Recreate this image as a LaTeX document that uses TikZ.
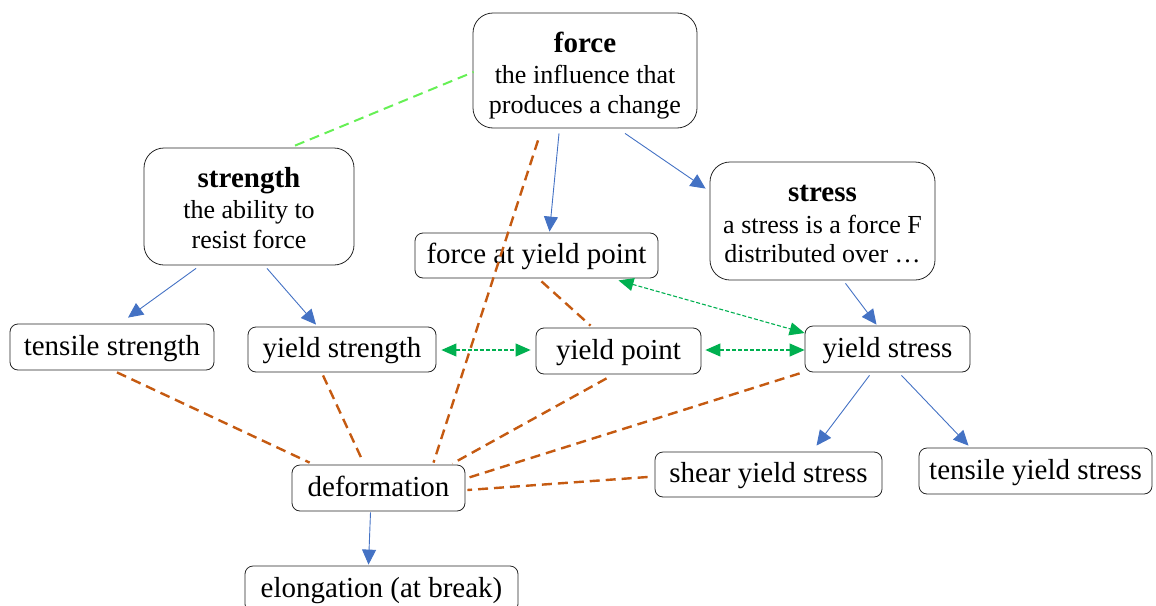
\documentclass[tikz,border=0pt]{standalone}
\usepackage{fontspec}
\setmainfont{Liberation Serif}
\usetikzlibrary{arrows.meta,calc}
\definecolor{eblue}{HTML}{4472C4}
\definecolor{eorange}{HTML}{C55A11}
\definecolor{egreen}{HTML}{00B050}
\definecolor{elight}{HTML}{66F055}
\tikzset{
  box/.style={draw=black!85, line width=0.8pt, rounded corners=8pt, inner sep=0pt,
    font=\fontsize{29}{34}\selectfont, text height=20pt, text depth=4pt},
  bigbox/.style={draw=black!85, line width=0.8pt, inner sep=0pt, rounded corners=20pt},
  title/.style={anchor=base, inner sep=0pt, font=\fontsize{29}{34}\selectfont\bfseries},
  desc/.style={anchor=base, inner sep=0pt, font=\fontsize{26}{30}\selectfont},
  isa/.style={draw=eblue, line width=0.9pt, -{Triangle[length=15pt,width=14pt]}},
  rel/.style={draw=eorange, line width=2.4pt, dash pattern=on 10pt off 6pt},
  assoc/.style={draw=elight, line width=2pt, dash pattern=on 10pt off 6pt},
  twoway/.style={draw=egreen, line width=1.1pt, dash pattern=on 4pt off 2pt,
    {Triangle[length=15pt,width=13pt]}-{Triangle[length=15pt,width=13pt]}},
}
\begin{document}
\begin{tikzpicture}[x=1pt,y=-1pt]
\clip (0,0) rectangle (1156,605);
% concept boxes with definitions
\node[bigbox, minimum width=224pt, minimum height=115pt] (force) at (585,70.5) {};
\node[title] (force-t) at ($(force.center)+(0,-18.5)$) {force};
\node[desc] (force-d1) at ($(force.center)+(0,12.5)$) {the influence that};
\node[desc] (force-d2) at ($(force.center)+(0,42.5)$) {produces a change};
\node[bigbox, minimum width=210pt, minimum height=117pt] (strength) at (249,206.5) {};
\node[title] (strength-t) at ($(strength.center)+(0,-19.5)$) {strength};
\node[desc] (strength-d1) at ($(strength.center)+(0,12)$) {the ability to};
\node[desc] (strength-d2) at ($(strength.center)+(0,42)$) {resist force};
\node[bigbox, minimum width=225pt, minimum height=118pt] (stress) at (822.5,221) {};
\node[title] (stress-t) at ($(stress.center)+(0,-20)$) {stress};
\node[desc] (stress-d1) at ($(stress.center)+(0,12.5)$) {a stress is a force F};
\node[desc] (stress-d2) at ($(stress.center)+(0,41.5)$) {distributed over …};
% single-line boxes
\node[box, minimum width=243pt, minimum height=45pt] (fyp) at (536.5,255.5) {force at yield point};
\node[box, minimum width=204pt, minimum height=46pt] (ts) at (112,347) {tensile strength};
\node[box, minimum width=188pt, minimum height=45pt] (ys) at (342,349.5) {yield strength};
\node[box, minimum width=165pt, minimum height=46pt] (yp) at (618.5,351) {yield point};
\node[box, minimum width=165pt, minimum height=46pt] (ystress) at (887.5,349) {yield stress};
\node[box, minimum width=227pt, minimum height=45pt] (shear) at (768.5,474.5) {shear yield stress};
\node[box, minimum width=233pt, minimum height=46pt] (tys) at (1035.5,471) {tensile yield stress};
\node[box, minimum width=173pt, minimum height=46pt] (def) at (378.5,488) {deformation};
\node[box, minimum width=273pt, minimum height=46pt] (elong) at (381.5,589) {elongation (at break)};
% blue arrows
\draw[isa] ($(force.south)+(-26,5)$) -- ($(fyp.north)+(13,-1)$);
\draw[isa] ($(force.south)+(40,5)$) -- ($(stress.north west)+(-4,27)$);
\draw[isa] ($(strength.south)+(-53,3)$) -- ($(ts.north)+(16,-6)$);
\draw[isa] ($(strength.south)+(18,3)$) -- ($(ys.north)+(-26,-2)$);
\draw[isa] ($(stress.south)+(23,3)$) -- ($(ystress.north)+(-11,-1)$);
\draw[isa] ($(ystress.south)+(-18,3)$) -- ($(shear.north)+(48,-6)$);
\draw[isa] ($(ystress.south)+(14,3)$) -- ($(tys.north)+(-67,-2)$);
\draw[isa] ($(def.south)+(-8,1)$) -- ($(elong.north)+(-13,-1)$);
% green two-way arrows
\draw[twoway] ($(ys.east)+(5,0.5)$) -- ($(yp.west)+(-5,-1)$);
\draw[twoway] ($(yp.east)+(4,-1)$) -- ($(ystress.west)+(0,1)$);
\draw[twoway] ($(fyp.south)+(82,2)$) -- ($(ystress.west)+(0,-16)$);
% light green association
\draw[assoc] ($(strength.north)+(46,-2)$) -- ($(force.west)+(1,1.5)$);
% orange relations
\draw[rel] ($(force.south)+(-47,12)$) -- ($(def.north)+(55,-2)$);
\draw[rel] ($(fyp.south)+(5,3)$) -- ($(yp.north)+(-28,-2)$);
\draw[rel] ($(ts.south)+(5,2)$) -- ($(def.north west)+(18,-2)$);
\draw[rel] ($(ys.south)+(-19,3)$) -- ($(def.north)+(-16,-4)$);
\draw[rel] ($(yp.south)+(-12,4)$) -- ($(def.north east)+(-13,-1)$);
\draw[rel] ($(ystress.south west)+(-5,1)$) -- ($(def.east)+(2,-10)$);
\draw[rel] ($(shear.west)+(-7,2.5)$) -- ($(def.east)+(2,2)$);
\end{tikzpicture}
\end{document}
